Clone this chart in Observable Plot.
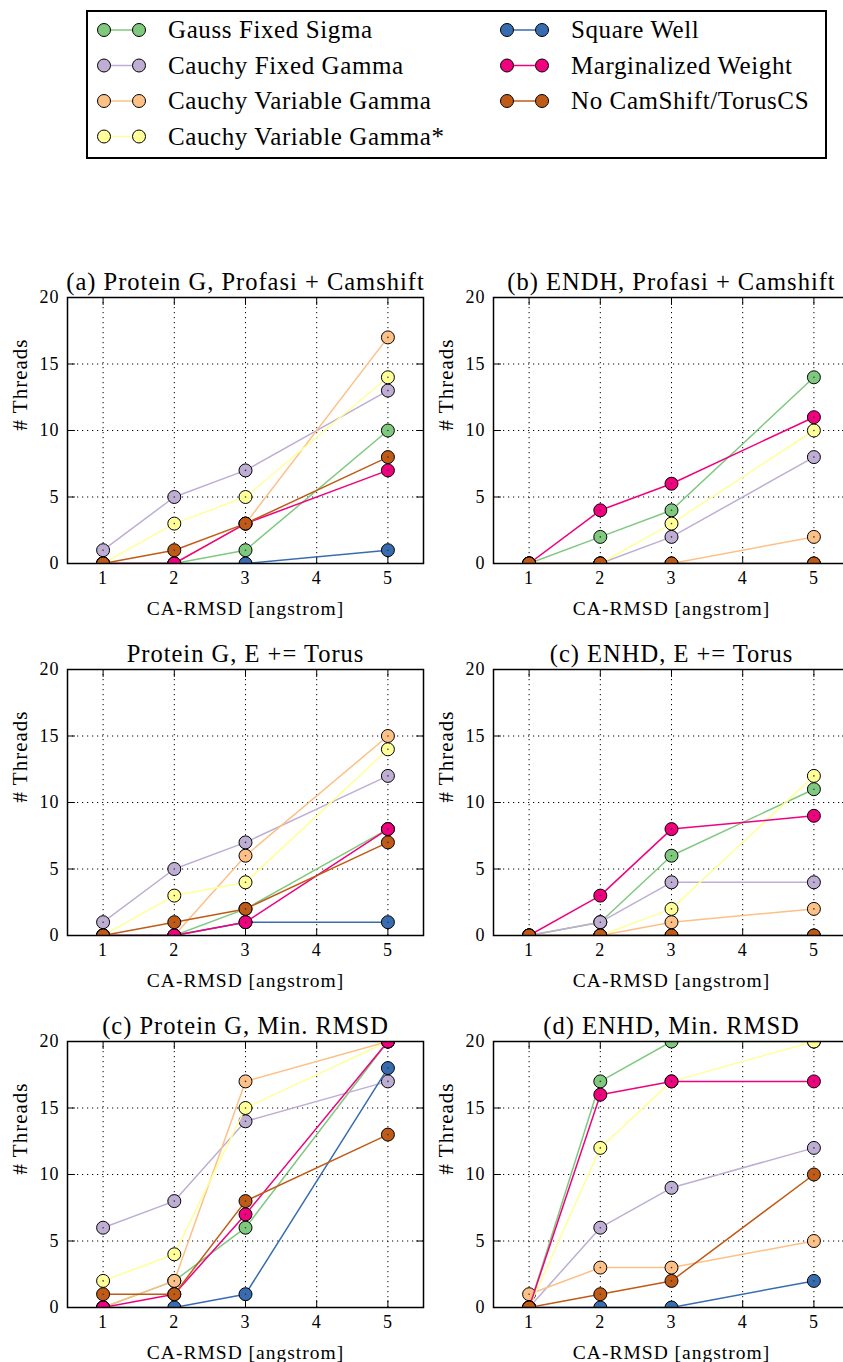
<!DOCTYPE html>
<html><head><meta charset="utf-8">
<script src="https://cdn.jsdelivr.net/npm/d3@7"></script>
<script src="https://cdn.jsdelivr.net/npm/@observablehq/plot@0.6"></script>
<style>
html,body{margin:0;padding:0;background:#fff;overflow:hidden;}
#root{position:relative;width:843px;height:1362px;overflow:hidden;background:#fff;font-family:'Liberation Serif',serif;}
#legend{position:absolute;left:86px;top:10px;width:741px;height:149px;border:2px solid #000;box-sizing:border-box;}
.panel{position:absolute;}
</style></head><body><div id="root"><div id="legend"></div></div>
<script>
// ---- data ----
const xValues = [1, 2, 3, 5];
const xTicks = [1, 2, 3, 4, 5];
const yTicks = [0, 5, 10, 15, 20];
const xLabel = "CA-RMSD [angstrom]";
const yLabel = "# Threads";
const seriesNames = ["Gauss Fixed Sigma", "Cauchy Fixed Gamma", "Cauchy Variable Gamma", "Cauchy Variable Gamma*",
                     "Square Well", "Marginalized Weight", "No CamShift/TorusCS"];
const seriesColors = ["#7fc97f", "#beaed4", "#fdc086", "#ffff99", "#386cb0", "#f0027f", "#bf5b17"];
const panelTitles = ["(a) Protein G, Profasi + Camshift", "(b) ENDH, Profasi + Camshift",
                     "Protein G, E += Torus", "(c) ENHD, E += Torus",
                     "(c) Protein G, Min. RMSD", "(d) ENHD, Min. RMSD"];
// values per series (order = seriesNames), at xValues
const pgCamshift   = [[0,0,1,10],[1,5,7,13],[0,0,3,17],[0,3,5,14],[0,0,0,1],[0,0,3,7],[0,1,3,8]];
const endhCamshift = [[0,2,4,14],[0,0,2,8],[0,0,0,2],[0,0,3,10],[0,0,0,0],[0,4,6,11],[0,0,0,0]];
const pgTorus      = [[0,0,2,8],[1,5,7,12],[0,0,6,15],[0,3,4,14],[0,0,1,1],[0,0,1,8],[0,1,2,7]];
const enhdTorus    = [[0,1,6,11],[0,1,4,4],[0,0,1,2],[0,0,2,12],[0,0,0,0],[0,3,8,9],[0,0,0,0]];
const pgMinRmsd    = [[0,2,6,20],[6,8,14,17],[0,2,17,20],[2,4,15,20],[0,0,1,18],[0,1,7,20],[1,1,8,13]];
const enhdMinRmsd  = [[0,17,20,20],[0,6,9,12],[1,3,3,5],[0,12,17,20],[0,0,0,2],[0,16,17,17],[0,1,2,10]];
const panelValues = [pgCamshift, endhCamshift, pgTorus, enhdTorus, pgMinRmsd, enhdMinRmsd];

// ---- legend ----
(function () {
  const svg = d3.select("#legend").append("svg").attr("width", 737).attr("height", 145)
    .style("display", "block");
  seriesNames.forEach((name, i) => {
    const col = i < 4 ? 0 : 1, row = i < 4 ? i : i - 4;
    const g = svg.append("g").attr("transform", `translate(${col ? 403 : 0},${18 + row * 35.5})`);
    g.append("line").attr("x1", 16).attr("x2", 51).attr("y1", 0).attr("y2", 0)
      .attr("stroke", seriesColors[i]).attr("stroke-width", 1.5);
    [16, 51].forEach(cx => g.append("circle").attr("cx", cx).attr("cy", 0).attr("r", 6.5)
      .attr("fill", seriesColors[i]).attr("stroke", "#000").attr("stroke-width", 1));
    g.append("text").attr("x", 80).attr("y", 0).attr("dy", "0.33em")
      .attr("font-family", "'Liberation Serif', serif").attr("font-size", 25)
      .style("letter-spacing", "0.6px").text(name);
  });
})();

// ---- panels ----
const tickShape = {draw(ctx, l) { ctx.moveTo(0, 0); ctx.lineTo(0, -l); }};
function inwardTicks() {
  const common = {length: 7, anchor: "start", shape: tickShape, stroke: "#000", strokeWidth: 1};
  return [
    Plot.vector(yTicks, {y: d => d, frameAnchor: "left", rotate: 90, ...common}),
    Plot.vector(yTicks, {y: d => d, frameAnchor: "right", rotate: -90, ...common}),
    Plot.vector(xTicks, {x: d => d, frameAnchor: "bottom", rotate: 0, ...common}),
    Plot.vector(xTicks, {x: d => d, frameAnchor: "top", rotate: 180, ...common})
  ];
}
function makePanel(title, values) {
  const rows = values.flatMap((vals, i) => vals.map((v, j) => ({series: seriesNames[i], x: xValues[j], y: v})));
  const seriesMarks = seriesNames.flatMap(name => {
    const d = rows.filter(r => r.series === name);
    return [
      Plot.line(d, {x: "x", y: "y", stroke: "series", strokeWidth: 1.5, clip: "frame"}),
      Plot.dot(d, {x: "x", y: "y", fill: "series", r: 6.5, stroke: "#000", strokeWidth: 1, clip: "frame"}),
      Plot.dot(d, {x: "x", y: "y", fill: "#333", r: 0.8, clip: "frame"})
    ];
  });
  return Plot.plot({
    width: 430, height: 371,
    marginLeft: 67, marginRight: 7, marginTop: 45, marginBottom: 60,
    x: {domain: [0.5, 5.5]},
    y: {domain: [0, 20]},
    color: {domain: seriesNames, range: seriesColors},
    style: {fontFamily: "'Liberation Serif', serif", fontSize: "18px", letterSpacing: "1px",
            background: "transparent", color: "#000", overflow: "visible", maxWidth: "none"},
    marks: [
      Plot.gridX(xTicks, {stroke: "#000", strokeOpacity: 1, strokeWidth: 1, strokeDasharray: "1.2,3.8"}),
      Plot.gridY(yTicks.slice(1, -1), {stroke: "#000", strokeOpacity: 1, strokeWidth: 1, strokeDasharray: "1.2,3.8"}),
      ...inwardTicks(),
      ...seriesMarks,
      Plot.frame({stroke: "#000", strokeWidth: 1.5}),
      Plot.axisX(xTicks, {tickSize: 0, tickPadding: 8, fontSize: 18, label: null}),
      Plot.axisY(yTicks, {tickSize: 0, tickPadding: 8, fontSize: 18, label: null}),
      Plot.text([xLabel], {frameAnchor: "bottom", dy: 51, lineAnchor: "bottom", fontSize: 19.5}),
      Plot.text([yLabel], {frameAnchor: "left", rotate: -90, lineAnchor: "top", dx: -55, fontSize: 21}),
      Plot.text([title], {frameAnchor: "top", dy: -8, lineAnchor: "bottom", fontSize: 24.5})
    ]
  });
}

const root = document.getElementById("root");
const lefts = [0, 426];
const tops = [252, 624, 996];
panelValues.forEach((vals, k) => {
  const el = makePanel(panelTitles[k], vals);
  el.classList.add("panel");
  el.style.left = lefts[k % 2] + "px";
  el.style.top = tops[Math.floor(k / 2)] + "px";
  root.appendChild(el);
});
</script></body></html>
